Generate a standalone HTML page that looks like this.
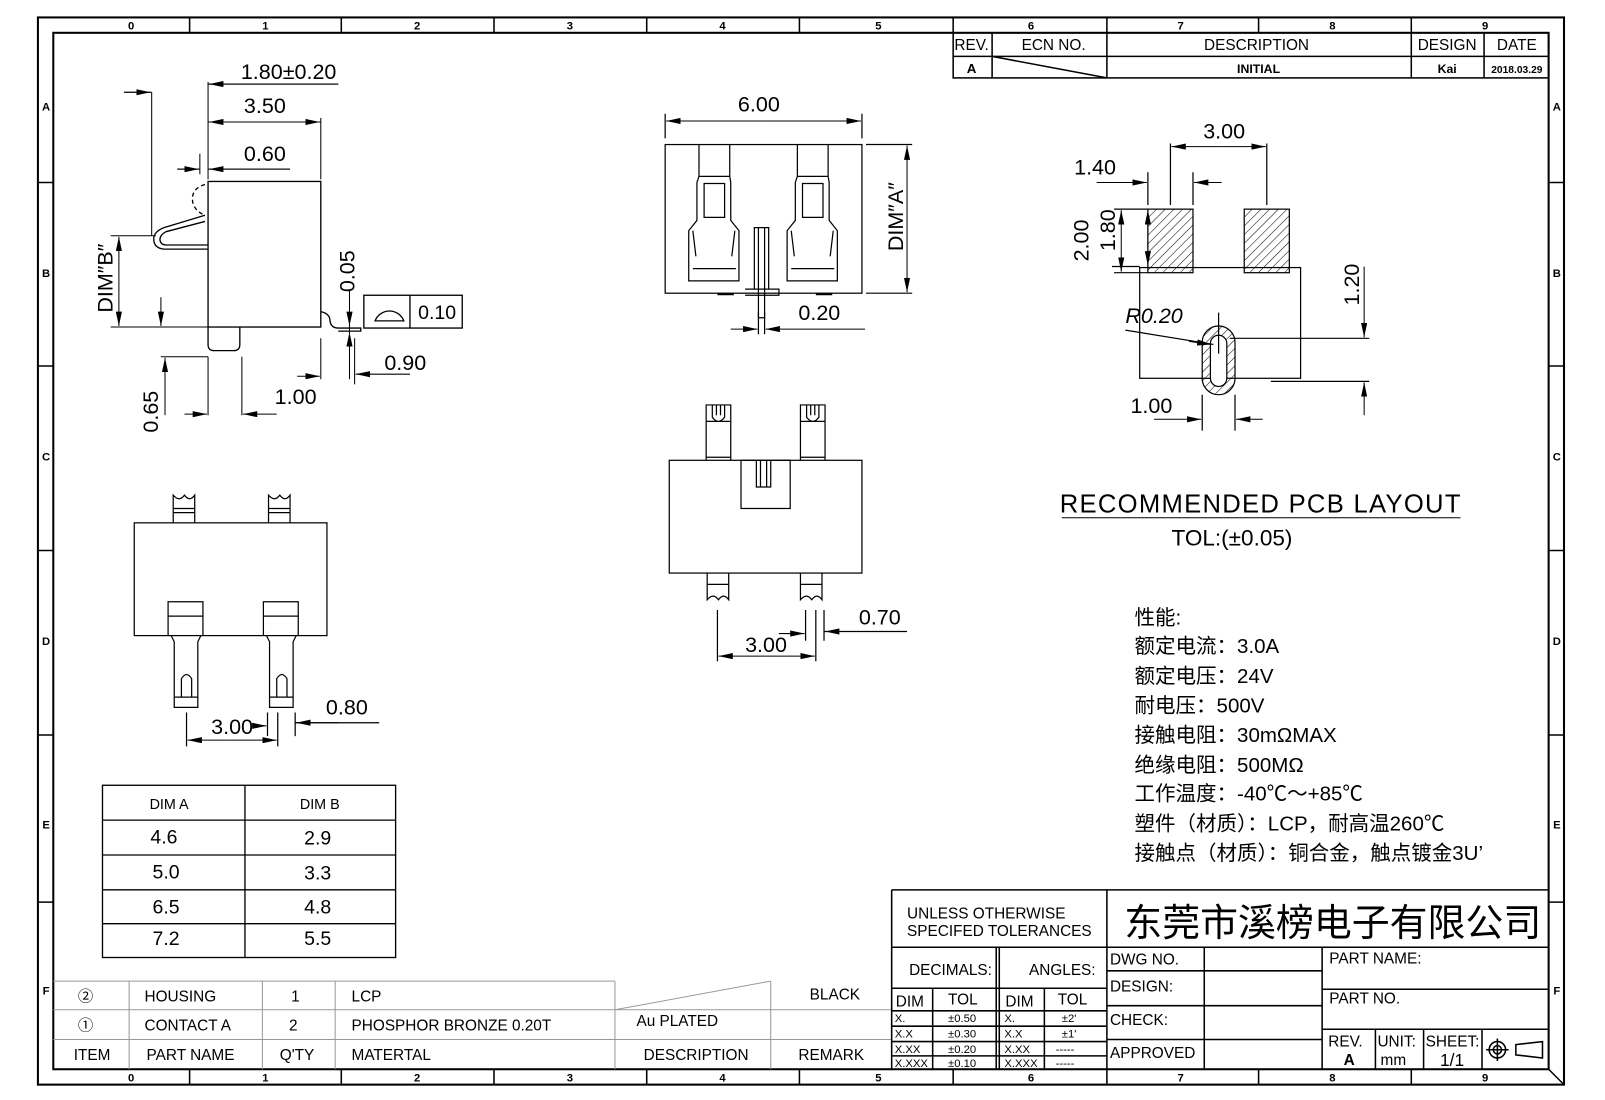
<!DOCTYPE html>
<html><head><meta charset="utf-8"><style>
html,body{margin:0;padding:0;background:#fff;}
svg{display:block;}
text{font-family:"Liberation Sans","Noto Sans CJK SC",sans-serif;fill:#000;}
.d{font-size:21px;font-weight:300;}
.s{font-size:15px;}
.g{fill:#999;font-size:15px;}
.cn{font-family:"Liberation Serif","Noto Serif CJK SC","Noto Sans CJK SC",serif;font-size:20px;}
</style></head><body>
<svg width="1605" height="1100" viewBox="0 0 1566 1073" preserveAspectRatio="none" xmlns="http://www.w3.org/2000/svg">
<defs>
<marker id="a" markerWidth="14" markerHeight="6" refX="14" refY="3" orient="auto" markerUnits="userSpaceOnUse"><path d="M0,0 L14,3 L0,6 z" fill="#000"/></marker>
<pattern id="h" width="6" height="6" patternUnits="userSpaceOnUse" patternTransform="rotate(45)"><line x1="0" y1="0" x2="0" y2="6" stroke="#000" stroke-width="1"/></pattern>
</defs>
<g fill="none" stroke="#000" stroke-width="1.5">
<rect x="37" y="17" width="1489" height="1041" stroke-width="2"/>
<rect x="52" y="32" width="1459" height="1011" stroke-width="2"/>
<path d="M185,17V32M333,17V32M482,17V32M631,17V32M780,17V32M930,17V32M1080,17V32M1228,17V32M1377,17V32"/>
<path d="M185,1043V1058M333,1043V1058M482,1043V1058M631,1043V1058M780,1043V1058M930,1043V1058M1080,1043V1058M1228,1043V1058M1377,1043V1058"/>
<path d="M37,178H52M37,357H52M37,537H52M37,717H52M37,880H52M1511,178H1526M1511,357H1526M1511,537H1526M1511,717H1526M1511,880H1526"/>
<path d="M1511,1043L1526,1058"/>
</g>
<g font-size="11" font-weight="bold" text-anchor="middle">
<text x="128" y="29">0</text><text x="259" y="29">1</text><text x="407" y="29">2</text><text x="556" y="29">3</text><text x="705" y="29">4</text><text x="857" y="29">5</text><text x="1006" y="29">6</text><text x="1152" y="29">7</text><text x="1300" y="29">8</text><text x="1449" y="29">9</text>
<text x="128" y="1055">0</text><text x="259" y="1055">1</text><text x="407" y="1055">2</text><text x="556" y="1055">3</text><text x="705" y="1055">4</text><text x="857" y="1055">5</text><text x="1006" y="1055">6</text><text x="1152" y="1055">7</text><text x="1300" y="1055">8</text><text x="1449" y="1055">9</text>
<text x="45" y="108">A</text><text x="45" y="270">B</text><text x="45" y="449">C</text><text x="45" y="629">D</text><text x="45" y="808">E</text><text x="45" y="970">F</text>
<text x="1519" y="108">A</text><text x="1519" y="270">B</text><text x="1519" y="449">C</text><text x="1519" y="629">D</text><text x="1519" y="808">E</text><text x="1519" y="970">F</text>
</g>

<g fill="none" stroke="#000" stroke-width="1.5">
<rect x="930" y="32" width="581" height="44"/>
<path d="M930,55H1511M968,32V76M1080,32V76M1377,32V76M1448,32V76M968,55L1080,76"/>
</g>
<g class="s" text-anchor="middle">
<text x="948" y="49">REV.</text><text x="1028" y="49">ECN  NO.</text><text x="1226" y="49">DESCRIPTION</text><text x="1412" y="49">DESIGN</text><text x="1480" y="49">DATE</text>
<text x="948" y="71" font-size="13" font-weight="bold">A</text><text x="1228" y="71" font-size="12" font-weight="bold">INITIAL</text><text x="1412" y="71" font-size="12" font-weight="bold">Kai</text><text x="1480" y="71" font-size="10" font-weight="bold">2018.03.29</text>
</g>

<g fill="none" stroke="#000" stroke-width="1.3">
<rect x="203" y="177" width="110" height="142"/>
<path d="M203,319V336Q203,342 209,342H228Q234,342 234,336V319"/>
<path d="M148,90V230M203,80V175M313,115V175M195,150V170" stroke-width="1"/>
<path d="M203,82H330M203,119H313M203,165H283M121,90H148M173,165H195" stroke-width="1"/>
<path d="M200,210L160,222Q150,226 150,233Q150,242 160,243H203M200,216L162,226Q156,229 156,234Q157,239 162,239H203" stroke-width="1.3"/>
<path d="M200,180Q186,184 188,197Q190,206 200,210" stroke-dasharray="4,3"/>
<path d="M313,304Q322,306 322,313Q323,320 330,320H352V323H330" stroke-width="1.3"/>
<path d="M108,230H152M108,319H203M239,319H280M341,282V370M341,330V345M346,330V375M236,348V405M203,348V405M313,330V370M157,348H203" stroke-width="1"/>
</g>
<g stroke="#000" stroke-width="1" marker-end="url(#a)">
<line x1="330" y1="82" x2="204" y2="82"/>
<line x1="258" y1="119" x2="204" y2="119"/><line x1="258" y1="119" x2="312" y2="119"/>
<line x1="283" y1="165" x2="204" y2="165"/>
<line x1="121" y1="90" x2="147" y2="90"/>
<line x1="173" y1="165" x2="194" y2="165"/>
<line x1="116" y1="275" x2="116" y2="231"/><line x1="116" y1="275" x2="116" y2="318"/>
<line x1="157" y1="290" x2="157" y2="318"/>
<line x1="161" y1="405" x2="161" y2="349"/>
<line x1="180" y1="404" x2="202" y2="404"/>
<line x1="270" y1="404" x2="237" y2="404"/>
<line x1="290" y1="367" x2="312" y2="367"/>
<line x1="400" y1="365" x2="347" y2="365"/>
<line x1="341" y1="300" x2="341" y2="318"/>
<line x1="341" y1="345" x2="341" y2="324"/>
</g>
<rect x="355" y="288" width="96" height="32" fill="none" stroke="#000" stroke-width="1.3"/>
<line x1="400" y1="288" x2="400" y2="320" stroke="#000" stroke-width="1.3"/>
<path d="M366,313A15,15 0 0 1 394,313Z" fill="none" stroke="#000" stroke-width="1.3"/>
<g class="d">
<text x="235" y="77">1.80±0.20</text><text x="238" y="110">3.50</text><text x="238" y="157">0.60</text>
<text x="408" y="311" font-size="19">0.10</text><text x="375" y="361">0.90</text><text x="268" y="394">1.00</text>
<text transform="translate(110,305) rotate(-90)">DIM″B″</text>
<text transform="translate(154,422) rotate(-90)">0.65</text>
<text transform="translate(346,285) rotate(-90)">0.05</text>
</g>

<g fill="none" stroke="#000" stroke-width="1.2">
<rect x="649" y="141" width="192" height="145"/>
<path d="M649,111V135M841,111V135M845,141H890M845,286H890"/>
<path d="M682,141V172H712V141M682,172L680,178V215L672,225V274H721V225L713,215V178L712,172M687,179H707V212H687Z M676,262H718M676,225L679,250M717,225L714,250"/>
<path d="M778,141V172H808V141M778,172L776,178V215L768,225V274H817V225L809,215V178L808,172M783,179H803V212H783Z M772,262H814M772,225L775,250M813,225L810,250"/>
<path d="M736,222H750V282H736Z M740,222V310H746V222M727,282H760V288H727"/>
<path d="M700,287H716M796,287H812" stroke-width="2"/>
<path d="M740,305V326M746,305V326"/>
</g>
<g stroke="#000" stroke-width="1" marker-end="url(#a)">
<line x1="745" y1="118" x2="650" y2="118"/><line x1="745" y1="118" x2="840" y2="118"/>
<line x1="885" y1="210" x2="885" y2="142"/><line x1="885" y1="210" x2="885" y2="285"/>
<line x1="713" y1="321" x2="739" y2="321"/><line x1="844" y1="321" x2="747" y2="321"/>
</g>
<g class="d"><text x="720" y="109">6.00</text><text x="779" y="312">0.20</text>
<text transform="translate(881,245) rotate(-90)">DIM″A″</text></g>

<g fill="none" stroke="#000" stroke-width="1.2">
<rect x="653" y="449" width="188" height="110"/>
<rect x="723" y="449" width="48" height="47"/>
<path d="M738,449V475H752V449M742,449V475M748,449V475"/>
<path d="M689,449V395H713V449M689,446H713M689,411H713M695,395V407Q701,415 707,407V395M699,395V405M703,395V405"/>
<path d="M781,449V395H805V449M781,446H805M781,411H805M787,395V407Q793,415 799,407V395M791,395V405M795,395V405"/>
<path d="M690,559V585Q696,578 701,585Q706,578 711,585V559M690,570H711"/>
<path d="M781,559V585Q787,578 792,585Q797,578 802,585V559M781,570H802"/>
<path d="M700,595V645M796,595V645M786,595V625M804,595V625M804,616H885"/>
</g>
<g stroke="#000" stroke-width="1" marker-end="url(#a)">
<line x1="748" y1="640" x2="701" y2="640"/><line x1="748" y1="640" x2="795" y2="640"/>
<line x1="760" y1="618" x2="785" y2="618"/><line x1="840" y1="616" x2="805" y2="616"/>
</g>
<g class="d"><text x="727" y="636">3.00</text><text x="838" y="609">0.70</text></g>

<g fill="none" stroke="#000" stroke-width="1.2">
<rect x="131" y="510" width="188" height="110"/>
<path d="M169,510V483Q175,490 180,483Q185,490 190,483V510M169,496H190M169,500H190"/>
<path d="M262,510V483Q268,490 273,483Q278,490 283,483V510M262,496H283M262,500H283"/>
<path d="M164,620V587H198V620M164,601H198M167,620L170,626V690H193V626L196,620M170,690V680H193M177,680V662Q182,654 187,662V680"/>
<path d="M257,620V587H291V620M257,601H291M260,620L263,626V690H286V626L289,620M263,690V680H286M270,680V662Q275,654 280,662V680"/>
<path d="M182,695V728M271,695V728M261,695V718M288,695V718M288,705H370"/>
</g>
<g stroke="#000" stroke-width="1" marker-end="url(#a)">
<line x1="226" y1="722" x2="183" y2="722"/><line x1="226" y1="722" x2="270" y2="722"/>
<line x1="245" y1="708" x2="260" y2="708"/><line x1="330" y1="705" x2="289" y2="705"/>
</g>
<g class="d"><text x="206" y="716">3.00</text><text x="318" y="697">0.80</text></g>

<g fill="none" stroke="#000" stroke-width="1.2">
<rect x="1120" y="204" width="44" height="62" fill="url(#h)"/>
<rect x="1214" y="204" width="44" height="62" fill="url(#h)"/>
<rect x="1112" y="261" width="157" height="108"/>
<rect x="1173" y="318" width="32" height="67" rx="16" fill="url(#h)"/>
<rect x="1181" y="327" width="16" height="50" rx="8" fill="#fff"/>
<path d="M1120,168V200M1142,140V200M1164,168V200M1236,140V200M1087,204H1120M1087,266H1120M1085,260H1112M1189,305V345M1200,330H1336M1240,372H1336M1173,385V420M1205,385V420M1098,322L1184,336"/>
</g>
<g stroke="#000" stroke-width="1" marker-end="url(#a)">
<line x1="1190" y1="143" x2="1143" y2="143"/><line x1="1190" y1="143" x2="1235" y2="143"/>
<line x1="1070" y1="178" x2="1119" y2="178"/><line x1="1192" y1="178" x2="1165" y2="178"/>
<line x1="1094" y1="235" x2="1094" y2="205"/><line x1="1094" y1="235" x2="1094" y2="265"/>
<line x1="1120" y1="230" x2="1120" y2="205"/><line x1="1120" y1="230" x2="1120" y2="259"/>
<line x1="1331" y1="260" x2="1331" y2="329"/><line x1="1331" y1="405" x2="1331" y2="373"/>
<line x1="1126" y1="409" x2="1172" y2="409"/><line x1="1232" y1="409" x2="1206" y2="409"/>
<line x1="1160" y1="333" x2="1182" y2="336"/>
</g>
<g class="d"><text x="1174" y="135">3.00</text><text x="1048" y="170">1.40</text><text x="1098" y="315" font-style="italic">R0.20</text><text x="1103" y="403">1.00</text>
<text transform="translate(1062,255) rotate(-90)">2.00</text><text transform="translate(1088,245) rotate(-90)">1.80</text><text transform="translate(1326,298) rotate(-90)">1.20</text></g>
<text x="1034" y="500" font-size="25" font-weight="300" letter-spacing="1" textLength="392">RECOMMENDED  PCB  LAYOUT</text>
<line x1="1036" y1="505" x2="1425" y2="505" stroke="#000" stroke-width="1"/>
<text x="1143" y="532" font-size="22" font-weight="300">TOL:(±0.05)</text>

<g class="cn">
<text x="1107" y="609">性能:</text>
<text x="1107" y="637">额定电流：3.0A</text>
<text x="1107" y="666">额定电压：24V</text>
<text x="1107" y="695">耐电压：500V</text>
<text x="1107" y="724">接触电阻：30mΩMAX</text>
<text x="1107" y="753">绝缘电阻：500MΩ</text>
<text x="1107" y="781">工作温度：-40℃～+85℃</text>
<text x="1107" y="810">塑件（材质）：LCP，耐高温260℃</text>
<text x="1107" y="839">接触点（材质）：铜合金，触点镀金3U’</text>
</g>

<g fill="none" stroke="#000" stroke-width="1.3">
<rect x="100" y="766" width="286" height="168"/>
<path d="M100,800H386M100,834H386M100,868H386M100,901H386M239,766V934"/>
</g>
<g font-family="Liberation Serif,serif" font-size="19" text-anchor="middle">
<text x="165" y="789" font-size="14">DIM A</text><text x="312" y="789" font-size="14">DIM B</text>
<text x="160" y="823">4.6</text><text x="310" y="824">2.9</text>
<text x="162" y="857">5.0</text><text x="310" y="858">3.3</text>
<text x="162" y="891">6.5</text><text x="310" y="891">4.8</text>
<text x="162" y="922">7.2</text><text x="310" y="922">5.5</text>
</g>

<g fill="none" stroke="#999" stroke-width="1">
<path d="M52,957H600M52,985H870M52,1014H870M126,957V1043M256,957V1043M327,957V1043M600,957V1043M752,957V1043M600,985L752,957"/>
</g>
<g class="g">
<text x="76" y="977">②</text><text x="141" y="977">HOUSING</text><text x="284" y="977">1</text><text x="343" y="977">LCP</text><text x="790" y="975">BLACK</text>
<text x="76" y="1005">①</text><text x="141" y="1005">CONTACT  A</text><text x="282" y="1005">2</text><text x="343" y="1005">PHOSPHOR  BRONZE  0.20T</text><text x="621" y="1001">Au  PLATED</text>
<text x="72" y="1034">ITEM</text><text x="143" y="1034">PART  NAME</text><text x="273" y="1034">Q'TY</text><text x="343" y="1034">MATERTAL</text><text x="628" y="1034">DESCRIPTION</text><text x="779" y="1034">REMARK</text>
</g>

<g fill="none" stroke="#000" stroke-width="1.5">
<path d="M870,868H1511M870,868V1043M1080,868V1043M870,924H1511"/>
<path d="M972,924V1043M975,924V1043M870,964H1080M870,986H1080M910,964V1043M1019,964V1043M870,1001H1080M870,1016H1080M870,1030H1080"/>
<path d="M1080,947H1290M1175,924V1043M1290,924V1043M1080,981H1290M1080,1014H1290M1290,965H1511M1290,1004H1511M1342,1004V1043M1389,1004V1043M1446,1004V1043"/>
</g>
<g font-size="15" font-weight="300">
<text x="885" y="896">UNLESS  OTHERWISE</text><text x="885" y="913">SPECIFED  TOLERANCES</text>
<text x="887" y="951">DECIMALS:</text><text x="1004" y="951">ANGLES:</text>
<text x="874" y="982">DIM</text><text x="925" y="980">TOL</text><text x="981" y="982">DIM</text><text x="1032" y="980">TOL</text>
<g font-size="11"><text x="873" y="997">X.</text><text x="925" y="997">±0.50</text><text x="980" y="997">X.</text><text x="1036" y="997">±2'</text>
<text x="873" y="1012">X.X</text><text x="925" y="1012">±0.30</text><text x="980" y="1012">X.X</text><text x="1036" y="1012">±1'</text>
<text x="873" y="1027">X.XX</text><text x="925" y="1027">±0.20</text><text x="980" y="1027">X.XX</text><text x="1030" y="1027">-----</text>
<text x="873" y="1041">X.XXX</text><text x="925" y="1041">±0.10</text><text x="980" y="1041">X.XXX</text><text x="1030" y="1041">-----</text></g>
<text x="1083" y="941">DWG  NO.</text><text x="1083" y="967">DESIGN:</text><text x="1083" y="1000">CHECK:</text><text x="1083" y="1032">APPROVED</text>
<text x="1297" y="940">PART  NAME:</text><text x="1297" y="979">PART  NO.</text>
<text x="1296" y="1021">REV.</text><text x="1344" y="1021">UNIT:</text><text x="1391" y="1021">SHEET:</text>
<text x="1311" y="1039" font-weight="bold">A</text><text x="1347" y="1039">mm</text><text x="1405" y="1040" font-size="17">1/1</text>
</g>
<text x="1097" y="913" font-family="Liberation Sans,'Noto Sans CJK SC',sans-serif" font-size="37">东莞市溪榜电子有限公司</text>
<g fill="none" stroke="#000" stroke-width="1.5">
<circle cx="1461" cy="1024" r="8"/><circle cx="1461" cy="1024" r="4"/><path d="M1450,1024H1472M1461,1013V1035"/>
<path d="M1479,1019L1505,1016V1032L1479,1029Z"/>
</g>
</svg>
</body></html>
